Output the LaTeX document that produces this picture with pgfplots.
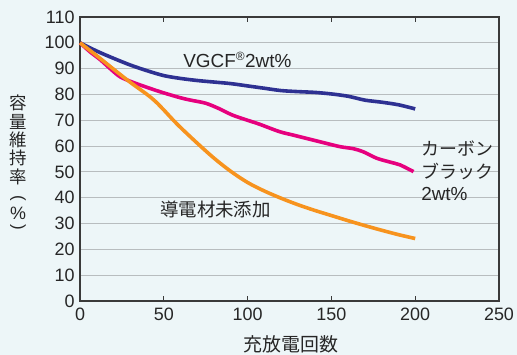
\documentclass[border=0pt]{standalone}
\usepackage{pgfplots}
\pgfplotsset{compat=1.18}
\usepackage{fontspec}
\setmainfont{Liberation Sans}
\newfontfamily\jp{Noto Sans CJK JP}
\definecolor{bg}{HTML}{EDF6F8}
\definecolor{cnavy}{HTML}{2E3192}
\definecolor{cmag}{HTML}{E6007E}
\definecolor{corange}{HTML}{F7931E}
\definecolor{gridc}{HTML}{B8BDBF}
\definecolor{axc}{HTML}{3A3A3A}
\begin{document}
\begin{tikzpicture}
\fill[bg, use as bounding box] (-80bp,-54bp) rectangle (437bp,301bp);
\begin{axis}[
  scale only axis,
  width=419bp, height=284bp,
  at={(0,0)}, anchor=south west,
  xmin=0, xmax=250, ymin=0, ymax=110,
  xtick={0,50,100,150,200,250},
  ytick={0,10,...,110},
  ymajorgrids,
  major grid style={draw=gridc, line width=1.1bp},
  axis line style={draw=axc, line width=1.1bp},
  x tick style={draw=axc, line width=0.9bp},
  y tick style={draw=none},
  tick align=inside,
  major tick length=5bp,
  /pgf/number format/assume math mode=true,
  tick label style={font=\fontsize{18}{20}\selectfont, text=black!85},
  yticklabel style={xshift=-2bp},
  xticklabel style={yshift=-3bp},
  axis background/.style={fill=bg},
  clip=false,
]
\addplot[cnavy, line width=3.6bp, smooth] coordinates {
(0,100) (10,96.8) (20,94) (30,91.4) (40,89.2) (50,87.3) (60,86.2) (70,85.4) (80,84.8)
(90,84.2) (100,83.3) (110,82.4) (120,81.5) (130,81.1) (140,80.8) (150,80.2) (160,79.3)
(170,77.8) (180,77) (190,76) (200,74.4)};
\addplot[cmag, line width=3.6bp, smooth] coordinates {
(0,100) (6,96.5) (12,93.5) (18,90) (24,86.8) (32,84.6) (42,82.3) (50,80.6) (60,78.7)
(66,77.8) (75,76.6) (83,74.5) (91,72) (100,70) (107,68.5) (119,65.6) (127,64.3) (135,63)
(143,61.7) (155,59.8) (163,59) (169,57.8) (177,55.3) (185,53.8) (191,52.7) (199,50.1)};
\addplot[corange, line width=3.6bp, smooth] coordinates {
(0,100) (10,95) (20,89.8) (30,84.7) (40,80) (45,77.3) (50,74) (55,70.5) (60,67.2) (70,61.1)
(80,55.3) (90,50.2) (100,45.9) (110,42.6) (120,39.8) (130,37.3) (140,35.1) (150,33.1)
(160,31.1) (170,29.2) (180,27.4) (190,25.7) (200,24.2)};
\node[anchor=base west, inner sep=0, font=\fontsize{19}{20}\selectfont, text=black!85]
  at (axis cs:61.5,90.6) {VGCF\textsuperscript{\fontsize{12}{12}\selectfont ®}2wt\%};
\node[anchor=base west, inner sep=0, font=\jp\fontsize{18}{20}\selectfont, text=black!85]
  at (axis cs:203.5,56.2) {カーボン};
\node[anchor=base west, inner sep=0, font=\jp\fontsize{18}{20}\selectfont, text=black!85]
  at (axis cs:203.5,47.6) {ブラック};
\node[anchor=base west, inner sep=0, font=\fontsize{19}{20}\selectfont, text=black!85]
  at (axis cs:203.5,39.1) {2wt\%};
\node[anchor=base west, inner sep=0, font=\jp\fontsize{18.5}{20}\selectfont, text=black!85]
  at (axis cs:47.7,32.9) {導電材未添加};
\end{axis}
\begin{scope}[every node/.style={inner sep=0, text=black!85, font=\jp\fontsize{17.5}{18}\selectfont}]
\node at (-62bp,197.7bp) {容};
\node at (-62bp,179.5bp) {量};
\node at (-62bp,161bp) {維};
\node at (-62bp,142.7bp) {持};
\node at (-62bp,124.5bp) {率};
\node[rotate=-90, font=\fontsize{17}{18}\selectfont] at (-62bp,103bp) {(};
\node[font=\fontsize{18}{18}\selectfont] at (-62bp,87.7bp) {\%};
\node[rotate=-90, font=\fontsize{17}{18}\selectfont] at (-62bp,74bp) {)};
\end{scope}
\node[inner sep=0, font=\jp\fontsize{19}{20}\selectfont, text=black!85]
  at (211bp,-43bp) {充放電回数};
\end{tikzpicture}
\end{document}
